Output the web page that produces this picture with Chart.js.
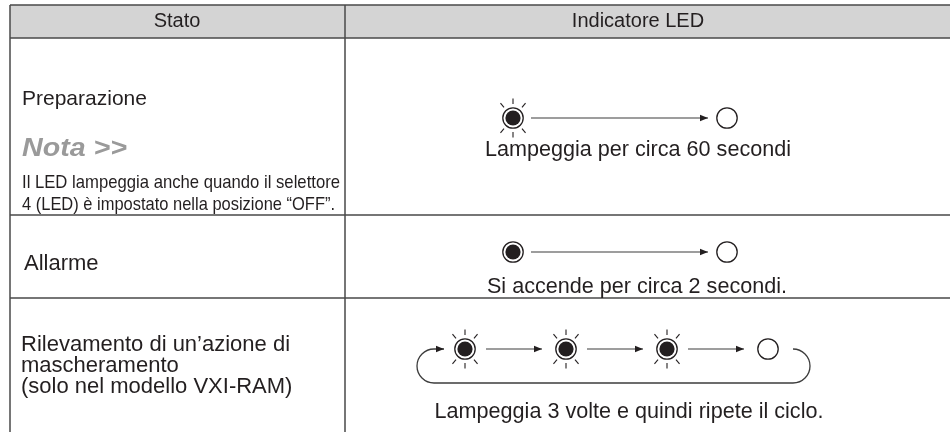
<!DOCTYPE html>
<html>
<head>
<meta charset="utf-8">
<script src="https://cdn.jsdelivr.net/npm/chart.js@4.4.1/dist/chart.umd.min.js"></script>
<style>
  html, body { margin: 0; padding: 0; background: #fff; }
  #wrap { width: 950px; height: 432px; }
</style>
</head>
<body>
<div id="wrap"><canvas id="ledChart" width="950" height="432"></canvas></div>
<script>
// table content
const headers = ['Stato', 'Indicatore LED'];
const stateLabels = [
  ['Preparazione'],
  ['Allarme'],
  ['Rilevamento di un’azione di', 'mascheramento', '(solo nel modello VXI-RAM)']
];
const noteTitle = 'Nota >>';
const noteLines = [
  'Il LED lampeggia anche quando il selettore',
  '4 (LED) è impostato nella posizione “OFF”.'
];
const ledSequences = [
  ['blink', 'off'],
  ['on', 'off'],
  ['blink', 'blink', 'blink', 'off']
];
const ledDescriptions = [
  'Lampeggia per circa 60 secondi',
  'Si accende per circa 2 secondi.',
  'Lampeggia 3 volte e quindi ripete il ciclo.'
];
const repeatsCycle = [false, false, true];

// sheet layout, in the units of the two hidden axes
const layout = {
  tableLeft: 10, colSplit: 345, tableRight: 952,
  headerTop: 5, headerBottom: 38,
  rowBottoms: [215, 298, 440],
  headX: [177, 638],
  ledY: [118, 252, 349],
  descY: [150, 287, 412],
  descX: [638, 637, 629],
  pairX: [513, 727],
  stepStart: 465, stepGap: 101,
  arrowGap: [[18, 19], [18, 19], [21, 24]],
  labelX: [22, 24, 21],
  labelY: [[99], [264], [345, 366, 387]],
  labelSize: [21, 22, 22],
  noteTitleY: 149, noteTitleWidth: 105,
  noteY: [183, 205], noteWidth: [318, 313],
  loopOut: 25, loopIn: 21, loopRun: 10, loopDrop: 34
};

const ink = '#231f20';
const lineInk = '#3c3c3c';

function ledXs(seq) {
  if (seq.length === 2) return layout.pairX;
  return seq.map((_, i) => layout.stepStart + i * layout.stepGap);
}

// LED icons used as point styles
function makeIcon(kind) {
  const size = 48, m = size / 2;
  const c = document.createElement('canvas');
  c.width = size; c.height = size;
  const g = c.getContext('2d');
  g.strokeStyle = ink; g.fillStyle = ink;
  g.lineWidth = 1.3;
  g.beginPath(); g.arc(m, m, 10.2, 0, Math.PI * 2); g.stroke();
  if (kind === 'off') return c;
  g.beginPath(); g.arc(m, m, 7.6, 0, Math.PI * 2); g.fill();
  if (kind === 'blink') {
    g.lineWidth = 1.1;
    [-40, 0, 40, 140, 180, 220].forEach(d => {
      const a = d * Math.PI / 180, sx = Math.sin(a), sy = -Math.cos(a);
      const r1 = 14, r2 = 19.5;
      g.beginPath();
      g.moveTo(m + sx * r1, m + sy * r1);
      g.lineTo(m + sx * r2, m + sy * r2);
      g.stroke();
    });
  }
  return c;
}
const icons = { blink: makeIcon('blink'), on: makeIcon('on'), off: makeIcon('off') };

// datasets: one arrow line per transition, one marker set per row
const datasets = [];
ledSequences.forEach((seq, r) => {
  const xs = ledXs(seq);
  const [g0, g1] = layout.arrowGap[r];
  for (let i = 0; i < seq.length - 1; i++) {
    datasets.push({
      data: [{ x: xs[i] + g0, y: layout.ledY[r] }, { x: xs[i + 1] - g1, y: layout.ledY[r] }],
      showLine: true, arrow: true,
      borderColor: lineInk, borderWidth: 1.2,
      pointRadius: 0, clip: false
    });
  }
});
ledSequences.forEach((seq, r) => {
  const xs = ledXs(seq);
  datasets.push({
    rowIndex: r,
    data: seq.map((kind, i) => ({ x: xs[i], y: layout.ledY[r], kind: kind })),
    pointStyle: ctx => icons[ctx.raw ? ctx.raw.kind : 'off'],
    pointRadius: 11, clip: false
  });
});

function fitText(g, text, x, y, width) {
  const w = g.measureText(text).width;
  g.save();
  g.translate(x, y);
  g.scale(width / w, 1);
  g.fillText(text, 0, 0);
  g.restore();
}

const FONT = '"Liberation Sans", Arial, sans-serif';

const tablePlugin = {
  id: 'ledTable',
  beforeDatasetsDraw(chart) {
    const g = chart.ctx, xs = chart.scales.x, ys = chart.scales.y;
    const px = v => xs.getPixelForValue(v), py = v => ys.getPixelForValue(v);
    const L = px(layout.tableLeft), S = px(layout.colSplit), R = px(layout.tableRight);
    const T = py(layout.headerTop), H = py(layout.headerBottom);
    const B = py(layout.rowBottoms[layout.rowBottoms.length - 1]);
    g.save();
    g.fillStyle = '#d4d4d4';
    g.fillRect(L, T, R - L, H - T);
    g.strokeStyle = '#4a4a4a';
    g.lineWidth = 1.5;
    g.beginPath();
    [layout.headerTop, layout.headerBottom].concat(layout.rowBottoms).forEach(v => {
      g.moveTo(L, py(v)); g.lineTo(R, py(v));
    });
    g.moveTo(L, T); g.lineTo(L, B);
    g.moveTo(S, T); g.lineTo(S, B);
    g.stroke();

    // header
    g.fillStyle = ink;
    g.textBaseline = 'middle';
    g.textAlign = 'center';
    g.font = '20px ' + FONT;
    const hy = (T + H) / 2;
    headers.forEach((t, i) => g.fillText(t, px(layout.headX[i]), hy));

    // state labels
    g.textAlign = 'left';
    stateLabels.forEach((lines, r) => {
      g.font = layout.labelSize[r] + 'px ' + FONT;
      lines.forEach((t, i) => g.fillText(t, px(layout.labelX[r]), py(layout.labelY[r][i])));
    });
    g.font = 'italic bold 25px ' + FONT;
    g.fillStyle = '#9a9a9a';
    fitText(g, noteTitle, px(layout.labelX[0]), py(layout.noteTitleY), layout.noteTitleWidth);
    g.fillStyle = ink;
    g.font = '19px "Liberation Sans Narrow", ' + FONT;
    noteLines.forEach((t, i) => fitText(g, t, px(layout.labelX[0]), py(layout.noteY[i]), layout.noteWidth[i]));

    // descriptions under the LED sequences
    g.textAlign = 'center';
    g.font = '21.6px ' + FONT;
    ledDescriptions.forEach((t, r) => g.fillText(t, px(layout.descX[r]), py(layout.descY[r])));
    g.restore();
  },
  afterDatasetsDraw(chart) {
    const g = chart.ctx;
    g.save();
    g.fillStyle = ink;
    g.strokeStyle = lineInk;
    chart.data.datasets.forEach((ds, i) => {
      const meta = chart.getDatasetMeta(i);
      if (ds.arrow) {
        const a = meta.data[0], b = meta.data[meta.data.length - 1];
        drawHead(g, b.x, b.y, Math.atan2(b.y - a.y, b.x - a.x));
      }
      if (ds.rowIndex !== undefined && repeatsCycle[ds.rowIndex]) {
        const first = meta.data[0], last = meta.data[meta.data.length - 1];
        const y0 = first.y, rad = layout.loopDrop / 2;
        const tip = first.x - layout.loopIn;
        const xr = last.x + layout.loopOut, xl = tip - layout.loopRun;
        g.lineWidth = 1.3;
        g.beginPath();
        g.moveTo(xr, y0);
        g.arc(xr, y0 + rad, rad, -Math.PI / 2, Math.PI / 2, false);
        g.lineTo(xl, y0 + 2 * rad);
        g.arc(xl, y0 + rad, rad, Math.PI / 2, Math.PI * 1.5, false);
        g.lineTo(tip, y0);
        g.stroke();
        drawHead(g, tip, y0, 0);
      }
    });
    g.restore();
  }
};

function drawHead(g, x, y, ang) {
  const len = 8, half = 3.2;
  g.save();
  g.translate(x, y);
  g.rotate(ang);
  g.beginPath();
  g.moveTo(0, 0);
  g.lineTo(-len, -half);
  g.lineTo(-len, half);
  g.closePath();
  g.fill();
  g.restore();
}

new Chart(document.getElementById('ledChart').getContext('2d'), {
  type: 'scatter',
  data: { datasets: datasets },
  options: {
    responsive: false,
    animation: false,
    devicePixelRatio: 1,
    events: [],
    layout: { padding: 0, autoPadding: false },
    scales: {
      x: { type: 'linear', min: 0, max: 950, display: false },
      y: { type: 'linear', min: 0, max: 432, reverse: true, display: false }
    },
    plugins: { legend: { display: false }, tooltip: { enabled: false } }
  },
  plugins: [tablePlugin]
});
</script>
</body>
</html>
